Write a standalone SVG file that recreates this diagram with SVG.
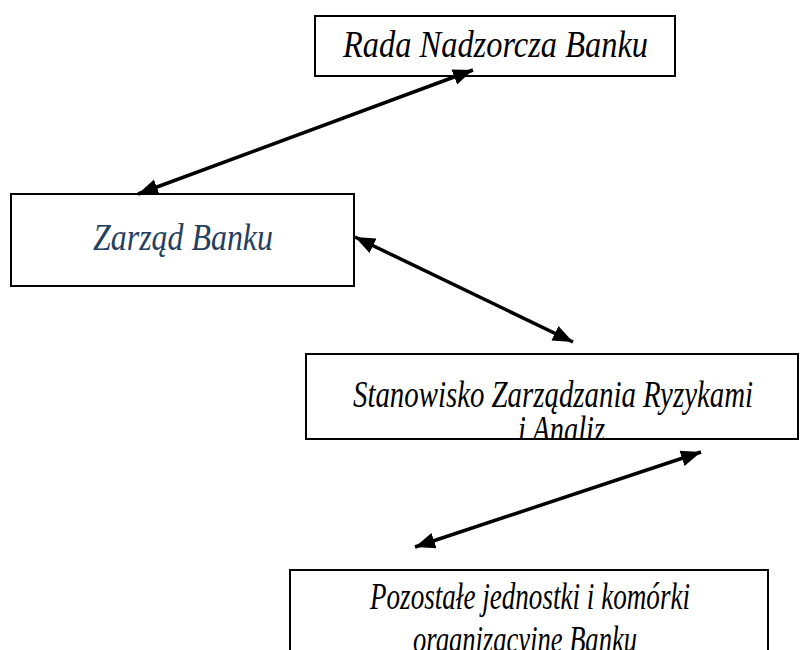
<svg xmlns="http://www.w3.org/2000/svg" width="800" height="650" viewBox="0 0 800 650">
  <style>
    .box { fill: #ffffff; stroke: #000000; stroke-width: 2; }
    .lbl { font-family: "Liberation Serif", "Times New Roman", serif; font-style: italic; font-size: 37px; fill: #000000; text-anchor: middle; }
    .blue { fill: #243F60; }
    .conn { stroke: #000000; stroke-width: 3.5; fill: none; marker-start: url(#arr); marker-end: url(#arr); }
  </style>
  <defs>
    <marker id="arr" markerUnits="userSpaceOnUse" markerWidth="22" markerHeight="18" refX="20" refY="8" orient="auto-start-reverse" viewBox="0 0 22 16">
      <path d="M0,0 L20,8 L0,16 Z" fill="#000000"/>
    </marker>
    <clipPath id="clip3">
      <rect x="307" y="355" width="490" height="83"/>
    </clipPath>
    <clipPath id="clip4">
      <rect x="291" y="571" width="476" height="100"/>
    </clipPath>
  </defs>
  <rect width="800" height="650" fill="#ffffff"/>

  <g id="node-rada">
    <rect class="box" x="315" y="16" width="360" height="60"/>
    <text class="lbl" x="495.5" y="57" textLength="305" lengthAdjust="spacingAndGlyphs">Rada Nadzorcza Banku</text>
  </g>

  <g id="node-zarzad">
    <rect class="box" x="11" y="194" width="343" height="92"/>
    <text class="lbl blue" x="183" y="250" textLength="180" lengthAdjust="spacingAndGlyphs">Zarząd Banku</text>
  </g>

  <g id="node-stanowisko">
    <rect class="box" x="306" y="354" width="492" height="85"/>
    <g clip-path="url(#clip3)">
      <text class="lbl" x="553" y="407" textLength="400" lengthAdjust="spacingAndGlyphs">Stanowisko Zarządzania Ryzykami</text>
      <text class="lbl" x="561.5" y="442" textLength="87" lengthAdjust="spacingAndGlyphs">i Analiz</text>
    </g>
  </g>

  <g id="node-pozostale">
    <rect class="box" x="290" y="570" width="478" height="100"/>
    <g clip-path="url(#clip4)">
      <text class="lbl" x="530" y="609" textLength="320" lengthAdjust="spacingAndGlyphs">Pozostałe jednostki i komórki</text>
      <text class="lbl" x="525" y="652" textLength="224" lengthAdjust="spacingAndGlyphs">organizacyjne Banku</text>
    </g>
  </g>

  <g id="connectors">
    <line class="conn" x1="138" y1="194" x2="473" y2="70"/>
    <line class="conn" x1="355" y1="237" x2="573" y2="342"/>
    <line class="conn" x1="415" y1="547" x2="701" y2="452"/>
  </g>
</svg>
